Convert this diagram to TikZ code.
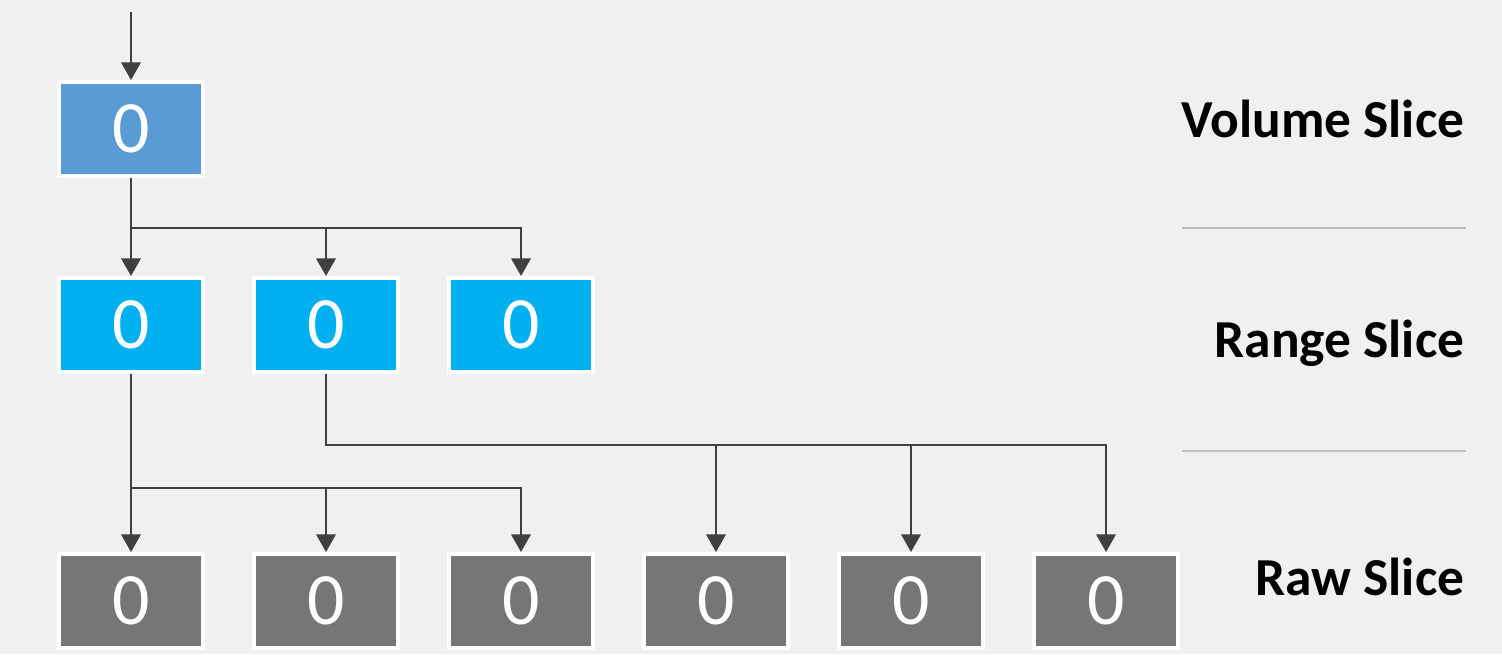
\documentclass[tikz,border=0pt]{standalone}
\usepackage{fontspec}
\setmainfont{Carlito}
\usepackage{tikz}
\usetikzlibrary{arrows.meta, positioning}
\definecolor{volblue}{HTML}{5B9BD5}
\definecolor{rngblue}{HTML}{00B0F0}
\definecolor{rawgray}{HTML}{767676}
\definecolor{linegray}{HTML}{404040}
\definecolor{sepgray}{HTML}{BFBFBF}
\definecolor{bggray}{HTML}{F0F0F0}

\begin{document}
\begin{tikzpicture}[
  node distance=0.98cm and 0.47cm,
  slice/.style={draw=white, line width=0.04cm, minimum width=1.44cm, minimum height=0.94cm, inner sep=0pt, text=white, font=\fontsize{21}{21}\selectfont},
  volbox/.style={slice, fill=volblue},
  rngbox/.style={slice, fill=rngblue},
  rawbox/.style={slice, fill=rawgray},
  arr/.style={-{Triangle[width=5.5pt,length=5pt]}, line width=0.65pt, draw=linegray},
  lbl/.style={anchor=base east, inner sep=0pt, font=\bfseries\fontsize{15.2}{16}\selectfont},
  sep/.style={draw=sepgray, line width=0.4pt}]
\fill[bggray] (0,0) rectangle (15.02,-6.54);
\useasboundingbox (0,0) rectangle (15.02,-6.54);
\node[volbox] (v) at (1.31,-1.29) {0};
\node[rngbox, below=of v] (r1) {0};
\node[rngbox, right=of r1] (r2) {0};
\node[rngbox, right=of r2] (r3) {0};
\node[rawbox, below=1.78cm of r1] (w1) {0};
\node[rawbox, right=of w1] (w2) {0};
\node[rawbox, right=of w2] (w3) {0};
\node[rawbox, right=of w3] (w4) {0};
\node[rawbox, right=of w4] (w5) {0};
\node[rawbox, right=of w5] (w6) {0};
\coordinate (in) at (1.31,-0.12);
\draw[arr] (in) -- (v);
\foreach \n in {r1,r2,r3}
  \draw[arr] (v.south) |- ([yshift=0.48cm]\n.north) -- (\n);
\foreach \n in {w1,w2,w3}
  \draw[arr] (r1.south) |- ([yshift=0.64cm]\n.north) -- (\n);
\foreach \n in {w4,w5,w6}
  \draw[arr] (r2.south) |- ([yshift=1.07cm]\n.north) -- (\n);
\node[lbl] (lv) at (14.65,-1.37) {Volume Slice};
\node[lbl] (lr) at (14.65,-3.57) {Range Slice};
\node[lbl] (lw) at (14.65,-5.95) {Raw Slice};
\draw[sep] (11.82,-2.28) -- (14.66,-2.28);
\draw[sep] (11.82,-4.51) -- (14.66,-4.51);
\end{tikzpicture}
\end{document}
